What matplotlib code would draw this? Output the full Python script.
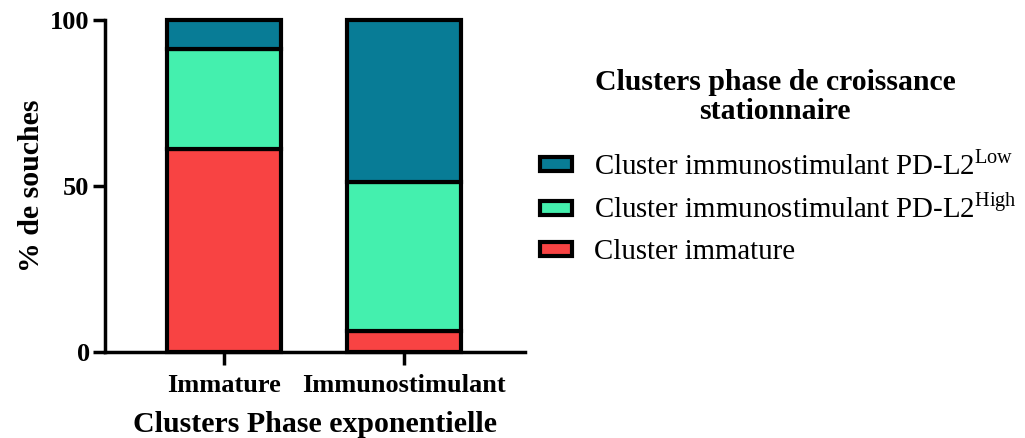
import matplotlib.pyplot as plt
from matplotlib.patches import Patch
import numpy as np

plt.rcParams["font.family"] = "Liberation Serif"
plt.rcParams["mathtext.fontset"] = "custom"
plt.rcParams["mathtext.rm"] = "Liberation Serif"

# % of strains per stationary-phase cluster, for each exponential-phase cluster
groups = ["Immature", "Immunostimulant"]
immature = [61.1, 6.3]
pdl2_high = [30.1, 45.0]
pdl2_low = [8.8, 48.7]

series_labels = [
    "Cluster immature",
    r"Cluster immunostimulant PD-L2$^{\mathrm{High}}$",
    r"Cluster immunostimulant PD-L2$^{\mathrm{Low}}$",
]
colors = ["#F84343", "#44F0AE", "#087C96"]

fig = plt.figure(figsize=(10.25, 4.38), dpi=100)
ax = fig.add_axes([0.1024, 0.196, 0.41, 0.758])

x = np.arange(len(groups))
bottom = np.zeros(len(groups))
for vals, col in zip([immature, pdl2_high, pdl2_low], colors):
    ax.bar(x, vals, bottom=bottom, width=0.633, color=col,
           edgecolor="black", linewidth=3, clip_on=False)
    bottom += np.array(vals)

ax.set_xlim(-0.661, 1.672)
ax.set_ylim(0, 100)
ax.set_yticks([0, 50, 100])
ax.set_xticks(x)
ax.set_xticklabels(groups)
for lab in ax.get_xticklabels() + ax.get_yticklabels():
    lab.set_fontweight("bold")
    lab.set_fontsize(19)
ax.tick_params(axis="both", width=2.5, length=9, direction="out")
ax.tick_params(axis="y", pad=2)
ax.tick_params(axis="x", pad=7)

for side in ["top", "right"]:
    ax.spines[side].set_visible(False)
for side in ["left", "bottom"]:
    ax.spines[side].set_linewidth(2.5)

ax.set_ylabel("% de souches", fontsize=21.5, fontweight="bold", labelpad=4)
ax.set_xlabel("Clusters Phase exponentielle", fontsize=21.5, fontweight="bold", labelpad=10)

# legend title drawn on its own so the gap to the entries can be set freely
fig.text(0.756, 0.778, "Clusters phase de croissance\nstationnaire",
         ha="center", va="center", multialignment="center",
         fontsize=21.4, fontweight="bold", linespacing=1.1)

handles = [Patch(facecolor=c, edgecolor="black", linewidth=3, label=l)
           for c, l in zip(colors, series_labels)][::-1]
fig.legend(handles=handles, loc="upper left", bbox_to_anchor=(0.527, 0.657),
           frameon=False, fontsize=20.8, borderpad=0, borderaxespad=0,
           handlelength=1.1, handleheight=0.4, handletextpad=0.75,
           labelspacing=0.52)

fig.savefig("out.png", dpi=100)
